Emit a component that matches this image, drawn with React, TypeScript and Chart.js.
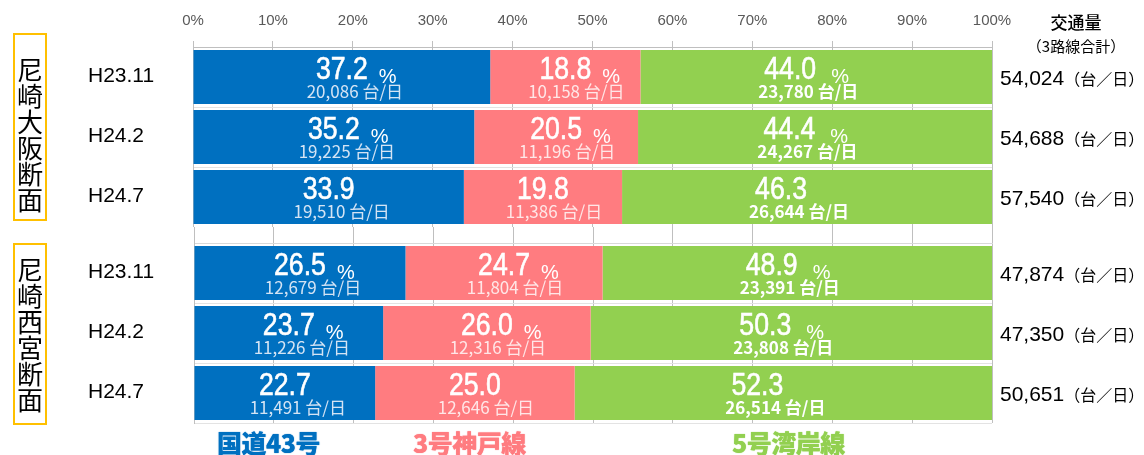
import React, { useEffect, useRef } from "react";
import { Chart, registerables } from "chart.js";
Chart.register(...registerables);

// ---- data ----
const periods = ["H23.11", "H24.2", "H24.7"];
const seriesNames = ["国道43号", "3号神戸線", "5号湾岸線"];
const xTickValues = [0, 10, 20, 30, 40, 50, 60, 70, 80, 90, 100];

// 尼崎大阪断面
const osakaRoute43Pct = [37.2, 35.2, 33.9];
const osakaKobePct = [18.8, 20.5, 19.8];
const osakaWanganPct = [44.0, 44.4, 46.3];
const osakaRoute43Vol = [20086, 19225, 19510];
const osakaKobeVol = [10158, 11196, 11386];
const osakaWanganVol = [23780, 24267, 26644];
const osakaTotals = [54024, 54688, 57540];
const osakaShowPct = [true, true, false];

// 尼崎西宮断面
const nishiRoute43Pct = [26.5, 23.7, 22.7];
const nishiKobePct = [24.7, 26.0, 25.0];
const nishiWanganPct = [48.9, 50.3, 52.3];
const nishiRoute43Vol = [12679, 11226, 11491];
const nishiKobeVol = [11804, 12316, 12646];
const nishiWanganVol = [23391, 23808, 26514];
const nishiTotals = [47874, 47350, 50651];
const nishiShowPct = [true, true, false];

// ---- styles ----
const COLORS = ["#0070C0", "#FF7C80", "#92D050"];
const LABEL_STYLES = [
  { numOffset: 0, pctGap: 11, subOffset: 13, subColor: "rgba(230,238,248,0.92)", subBold: false },
  { numOffset: 0, pctGap: 11, subOffset: 11, subColor: "rgba(255,236,236,0.95)", subBold: false },
  { numOffset: -26, pctGap: 15, subOffset: -8, subColor: "#ffffff", subBold: true },
];

const fmt = (n: number) => n.toLocaleString("en-US");

const barLabelPlugin = {
  id: "barLabelsCustom",
  afterDatasetsDraw(chart: any) {
    const ctx = chart.ctx;
    const extra = chart.options.plugins.barLabelsCustom;
    chart.data.datasets.forEach((ds: any, di: number) => {
      const meta = chart.getDatasetMeta(di);
      const st = LABEL_STYLES[di];
      meta.data.forEach((bar: any, i: number) => {
        const p = bar.getProps(["x", "base", "y"], true);
        const cx = (p.x + p.base) / 2;
        const cy = p.y;
        const v = ds.data[i] as number;
        const numText = v.toFixed(1);
        const nx = cx + st.numOffset;
        const sx = 0.86;
        ctx.save();
        ctx.font = '31px "Liberation Sans", Arial, sans-serif';
        const w = ctx.measureText(numText).width * sx;
        ctx.fillStyle = "#ffffff";
        ctx.strokeStyle = "#ffffff";
        ctx.lineWidth = 0.6;
        ctx.textAlign = "center";
        ctx.textBaseline = "alphabetic";
        ctx.translate(nx, cy + 2);
        ctx.scale(sx, 1);
        ctx.fillText(numText, 0, 0);
        ctx.strokeText(numText, 0, 0);
        ctx.restore();
        if (extra.showPct[i]) {
          ctx.save();
          ctx.font = '20px "Liberation Sans", Arial, sans-serif';
          ctx.fillStyle = "#ffffff";
          ctx.textAlign = "left";
          ctx.textBaseline = "alphabetic";
          ctx.fillText("%", nx + w / 2 + st.pctGap, cy + 6);
          ctx.restore();
        }
        ctx.save();
        ctx.font = (st.subBold ? "bold " : "") + '17px "Noto Sans CJK JP", sans-serif';
        ctx.fillStyle = st.subColor;
        ctx.textAlign = "center";
        ctx.textBaseline = "alphabetic";
        ctx.fillText(fmt(ds.vols[i]) + " 台/日", cx + st.subOffset, cy + 21);
        ctx.restore();
      });
    });
    const yScale = chart.scales.y;
    const right = chart.chartArea.right;
    // period labels at left
    chart.data.labels.forEach((lab: string, i: number) => {
      const py = yScale.getPixelForValue(i);
      ctx.save();
      ctx.fillStyle = "#000000";
      ctx.textBaseline = "middle";
      ctx.textAlign = "left";
      ctx.font = '21px "Liberation Sans", Arial, sans-serif';
      ctx.fillText(lab, 88, py - 1);
      ctx.restore();
    });
    // totals at right
    extra.totals.forEach((t: number, i: number) => {
      const py = yScale.getPixelForValue(i);
      ctx.save();
      ctx.fillStyle = "#000000";
      ctx.textBaseline = "middle";
      ctx.textAlign = "left";
      ctx.font = '21px "Liberation Sans", Arial, sans-serif';
      const s = fmt(t);
      const x0 = right + 8;
      ctx.fillText(s, x0, py + 2);
      const ww = ctx.measureText(s).width;
      ctx.font = '16px "Noto Sans CJK JP", sans-serif';
      ctx.fillText("（台／日）", x0 + ww, py + 2);
      ctx.restore();
    });
  },
};

function makeConfig(
  pcts: number[][],
  vols: number[][],
  totals: number[],
  showPct: boolean[],
  top: boolean
): any {
  return {
    type: "bar",
    data: {
      labels: periods,
      datasets: pcts.map((d, k) => ({
        label: seriesNames[k],
        data: d,
        vols: vols[k],
        backgroundColor: COLORS[k],
        borderWidth: 0,
        barPercentage: 0.9,
        categoryPercentage: 1,
      })),
    },
    options: {
      indexAxis: "y",
      responsive: false,
      animation: false,
      events: [],
      layout: { padding: { left: top ? 193 : 194, right: 152, top: 0, bottom: top ? 0 : 2 } },
      scales: {
        x: {
          type: "linear",
          position: "top",
          stacked: true,
          min: 0,
          max: 100,
          afterBuildTicks: (s: any) => {
            s.ticks = xTickValues.map((v) => ({ value: v }));
          },
          ticks: {
            display: top,
            callback: (v: any) => v + "%",
            color: "#595959",
            font: { size: 15, family: '"Liberation Sans", Arial, sans-serif' },
            padding: 11,
            maxRotation: 0,
            autoSkip: false,
          },
          grid: { color: "#bfbfbf", tickLength: top ? 6 : 16, lineWidth: 1 },
          border: { display: true, color: top ? "#bfbfbf" : "#d9d9d9" },
          afterFit: (s: any) => {
            s.height = top ? 47 : 16;
          },
        },
        y: {
          type: "category",
          stacked: true,
          ticks: { display: false },
          grid: { display: true, color: "#e3e3e3", drawTicks: false, offset: true },
          border: { display: true, color: "#bfbfbf" },
        },
      },
      plugins: {
        legend: { display: false },
        tooltip: { enabled: false },
        barLabelsCustom: { totals, showPct },
      },
    },
    plugins: [barLabelPlugin],
  };
}

function Panel(props: {
  top: number;
  height: number;
  pcts: number[][];
  vols: number[][];
  totals: number[];
  showPct: boolean[];
  isTop: boolean;
}) {
  const ref = useRef<HTMLCanvasElement>(null);
  useEffect(() => {
    if (!ref.current) return;
    const c = new Chart(
      ref.current,
      makeConfig(props.pcts, props.vols, props.totals, props.showPct, props.isTop)
    );
    return () => c.destroy();
  }, []);
  return (
    <canvas
      ref={ref}
      width={1144}
      height={props.height}
      style={{ position: "absolute", left: 0, top: props.top, display: "block" }}
    />
  );
}

function GroupBox(props: { text: string; top: number; height: number; padTop: number }) {
  return (
    <div
      style={{
        position: "absolute",
        left: 13,
        top: props.top,
        width: 30,
        height: props.height - 4,
        border: "2px solid #FFC000",
        display: "flex",
        flexDirection: "column",
        alignItems: "center",
        justifyContent: "center",
        paddingTop: props.padTop,
        boxSizing: "content-box",
        fontFamily: '"Noto Sans CJK JP", sans-serif',
        fontSize: 26,
        lineHeight: "26px",
        color: "#000",
      }}
    >
      {props.text.split("").map((ch, i) => (
        <div key={i} style={{ height: 26 }}>
          {ch}
        </div>
      ))}
    </div>
  );
}

export default function App() {
  useEffect(() => {
    document.body.style.margin = "0";
  }, []);
  const legendStyle = (color: string, left: number): React.CSSProperties => ({
    position: "absolute",
    left,
    top: 427,
    fontFamily: '"Noto Sans CJK JP", sans-serif',
    fontWeight: 900,
    fontSize: 25,
    lineHeight: "30px",
    color,
    letterSpacing: -0.5,
    textShadow: "0 0 1px " + color,
    whiteSpace: "nowrap",
  });
  return (
    <div
      style={{
        position: "absolute",
        left: 0,
        top: 0,
        width: 1144,
        height: 455,
        background: "#ffffff",
        overflow: "hidden",
      }}
    >
      <Panel
        top={0}
        height={227}
        pcts={[osakaRoute43Pct, osakaKobePct, osakaWanganPct]}
        vols={[osakaRoute43Vol, osakaKobeVol, osakaWanganVol]}
        totals={osakaTotals}
        showPct={osakaShowPct}
        isTop={true}
      />
      <Panel
        top={227}
        height={198}
        pcts={[nishiRoute43Pct, nishiKobePct, nishiWanganPct]}
        vols={[nishiRoute43Vol, nishiKobeVol, nishiWanganVol]}
        totals={nishiTotals}
        showPct={nishiShowPct}
        isTop={false}
      />
      <GroupBox text="尼崎大阪断面" top={33} height={174} padTop={14} />
      <GroupBox text="尼崎西宮断面" top={243} height={182} padTop={0} />
      <div
        style={{
          position: "absolute",
          left: 1020,
          width: 112,
          top: 10,
          textAlign: "center",
          fontFamily: '"Noto Sans CJK JP", sans-serif',
          fontSize: 17,
          fontWeight: 500,
          lineHeight: "24px",
          color: "#000",
        }}
      >
        交通量
      </div>
      <div
        style={{
          position: "absolute",
          left: 1015,
          width: 122,
          top: 35,
          textAlign: "center",
          fontFamily: '"Noto Sans CJK JP", sans-serif',
          fontSize: 15,
          lineHeight: "22px",
          color: "#000",
        }}
      >
        （3路線合計）
      </div>
      <div style={legendStyle(COLORS[0], 217)}>{seriesNames[0]}</div>
      <div style={legendStyle(COLORS[1], 413)}>{seriesNames[1]}</div>
      <div style={legendStyle(COLORS[2], 732)}>{seriesNames[2]}</div>
    </div>
  );
}
